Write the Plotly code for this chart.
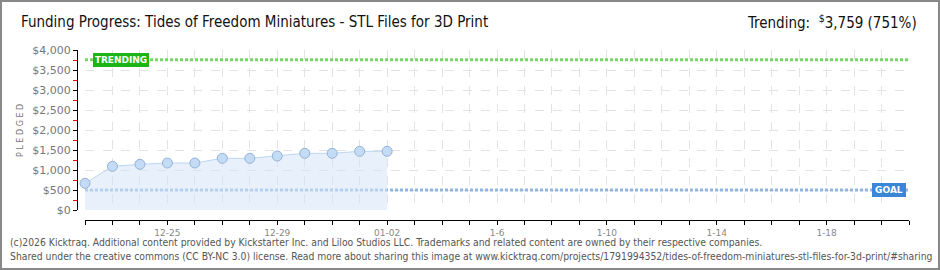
import plotly.graph_objects as go
import pandas as pd

# ---- data ----
dates = pd.date_range("2025-12-22", "2026-01-02", freq="D").strftime("%Y-%m-%d").tolist()
pledged = [667, 1092, 1142, 1175, 1175, 1292, 1292, 1350, 1417, 1417, 1467, 1467]
goal = 500
trending = 3759
trending_pct = 751
axis_start = "2025-12-22"
axis_end = "2026-01-21"
tick_days = pd.date_range(axis_start, axis_end, freq="D").strftime("%Y-%m-%d").tolist()
tick_label_map = {"2025-12-25": "12-25", "2025-12-29": "12-29", "2026-01-02": "01-02",
                  "2026-01-06": "1-6", "2026-01-10": "1-10", "2026-01-14": "1-14",
                  "2026-01-18": "1-18"}
tick_text = [tick_label_map.get(d, " ") for d in tick_days]
y_ticks = list(range(0, 4001, 500))
y_tick_text = [f"${v:,}" for v in y_ticks]

W, H = 940, 270
ML, MR, MT, MB = 77, 31, 50, 50
PW = W - ML - MR
PH = H - MT - MB

fig = go.Figure()

# goal line
fig.add_trace(go.Scatter(x=[axis_start, axis_end], y=[goal, goal], mode="lines",
                         line=dict(color="#8fb5e0", width=3, dash="3px,2px"),
                         hoverinfo="skip", showlegend=False))
# trending line
fig.add_trace(go.Scatter(x=[axis_start, axis_end], y=[trending, trending], mode="lines",
                         line=dict(color="#77d766", width=3, dash="3px,2px"),
                         hoverinfo="skip", showlegend=False))
# pledged
fig.add_trace(go.Scatter(x=dates, y=pledged, mode="lines+markers", fill="tozeroy",
                         fillcolor="rgba(214,230,248,0.55)",
                         line=dict(color="#bcd6f2", width=1),
                         marker=dict(size=10, color="#c4dbf5", line=dict(color="#93b2d6", width=1)),
                         cliponaxis=False,
                         showlegend=False))

fig.update_layout(
    width=W, height=H,
    margin=dict(l=ML, r=MR, t=MT, b=MB),
    paper_bgcolor="white", plot_bgcolor="white",
    xaxis=dict(
        type="date", range=[axis_start, axis_end],
        domain=[8 / PW, 1],
        anchor="free", position=0,
        tickvals=tick_days, ticktext=tick_text,
        ticks="outside", ticklen=4, tickcolor="black",
        showline=True, linecolor="black", linewidth=1,
        showgrid=True, gridcolor="#e3e3e3", griddash="dash", gridwidth=1,
        tickfont=dict(family="DejaVu Sans", size=9, color="#888888"),
        zeroline=False,
    ),
    yaxis=dict(
        range=[0, 4000],
        domain=[10 / PH, 1],
        anchor="free", position=0,
        tickvals=y_ticks, ticktext=y_tick_text,
        ticks="outside", ticklen=4, tickcolor="black",
        showline=True, linecolor="black", linewidth=1,
        showgrid=True, gridcolor="#e3e3e3", griddash="dash", gridwidth=1,
        tickfont=dict(family="DejaVu Sans", size=11, color="#777777"),
        zeroline=False,
        minor=dict(dtick=250, ticks="outside", ticklen=4, tickcolor="red", showgrid=False),
    ),
)

def px_x(px):
    return (px - ML) / PW

def px_y(py):
    return (H - MB - py) / PH

annotations = [
    dict(text="Funding Progress: Tides of Freedom Miniatures - STL Files for 3D Print",
         xref="paper", yref="paper", x=px_x(19), y=px_y(22), xanchor="left", yanchor="middle",
         showarrow=False, font=dict(family="DejaVu Sans Condensed", size=15, color="#111111")),
    dict(text=f"Trending:  <sup>$</sup>{trending:,} ({trending_pct}%)",
         xref="paper", yref="paper", x=px_x(919), y=px_y(22), xanchor="right", yanchor="middle",
         showarrow=False, font=dict(family="DejaVu Sans Condensed", size=15, color="#111111")),
    dict(text="P L E D G E D", textangle=-90,
         xref="paper", yref="paper", x=px_x(20), y=px_y(130), xanchor="center", yanchor="middle",
         showarrow=False, font=dict(family="DejaVu Sans", size=8, color="#777777")),
    dict(text="<b>TRENDING</b>", xref="paper", yref="y", x=px_x(93), y=trending,
         xanchor="left", yanchor="middle", showarrow=False,
         bgcolor="#1db515", bordercolor="#1db515", borderpad=1, width=52,
         font=dict(family="DejaVu Sans", size=9, color="white")),
    dict(text="<b>GOAL</b>", xref="paper", yref="y", x=px_x(906), y=goal,
         xanchor="right", yanchor="middle", showarrow=False,
         bgcolor="#3c86d8", bordercolor="#3c86d8", borderpad=1, width=30,
         font=dict(family="DejaVu Sans", size=9, color="white")),
    dict(text="(c)2026 Kicktraq. Additional content provided by Kickstarter Inc. and Liloo Studios LLC. Trademarks and related content are owned by their respective companies.",
         xref="paper", yref="paper", x=px_x(8), y=px_y(242), xanchor="left", yanchor="middle",
         showarrow=False, font=dict(family="DejaVu Sans Condensed", size=10.3, color="#555555")),
    dict(text="Shared under the creative commons (CC BY-NC 3.0) license. Read more about sharing this image at www.kicktraq.com/projects/1791994352/tides-of-freedom-miniatures-stl-files-for-3d-print/#sharing",
         xref="paper", yref="paper", x=px_x(8), y=px_y(256), xanchor="left", yanchor="middle",
         showarrow=False, font=dict(family="DejaVu Sans Condensed", size=10.3, color="#555555")),
]
fig.update_layout(annotations=annotations)

# outer frame
fig.add_shape(type="rect", xref="paper", yref="paper",
              x0=px_x(1), x1=px_x(939), y0=px_y(269), y1=px_y(1),
              line=dict(color="#888888", width=2), fillcolor="rgba(0,0,0,0)", layer="above")

fig.write_html("out.html")
